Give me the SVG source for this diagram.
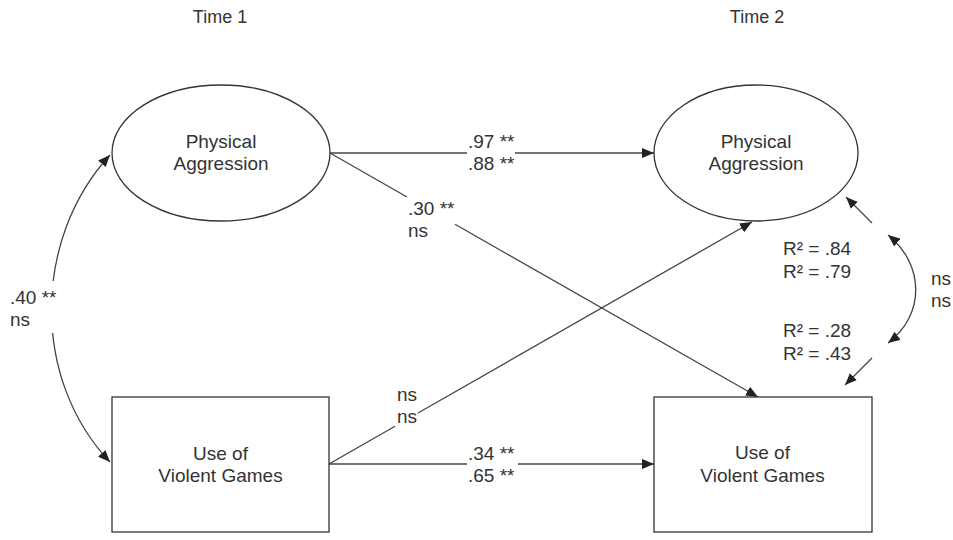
<svg xmlns="http://www.w3.org/2000/svg" width="953" height="540" viewBox="0 0 953 540">
<style>
text{font-family:"Liberation Sans",Arial,sans-serif;font-size:19px;fill:#333}
.t{font-size:18px}
.node{fill:#fff;stroke:#333;stroke-width:1.3}
.c{fill:none;stroke:#444;stroke-width:1.3}
.a{marker-end:url(#ah)}
.b{marker-start:url(#ahs);marker-end:url(#ah)}
</style>
<defs>
<marker id="ah" viewBox="0 0 12 10" refX="12" refY="5" markerWidth="12" markerHeight="10" markerUnits="userSpaceOnUse" orient="auto"><path d="M0,0 L12,5 L0,10 Z" fill="#222"/></marker>
<marker id="ahs" viewBox="0 0 12 10" refX="0" refY="5" markerWidth="12" markerHeight="10" markerUnits="userSpaceOnUse" orient="auto"><path d="M12,0 L0,5 L12,10 Z" fill="#222"/></marker>
</defs>
<rect width="953" height="540" fill="#fff"/>
<text class="t" x="220" y="23" text-anchor="middle">Time 1</text>
<text class="t" x="757" y="23" text-anchor="middle">Time 2</text>
<g id="connectors">
<line class="c" x1="330" y1="153" x2="467" y2="153"/>
<line class="c a" x1="515" y1="153" x2="654" y2="153"/>
<line class="c" x1="329" y1="464" x2="467" y2="464"/>
<line class="c a" x1="518" y1="464" x2="654" y2="464"/>
<line class="c" x1="330" y1="153" x2="407" y2="197"/>
<line class="c a" x1="455" y1="224.3" x2="758" y2="397"/>
<line class="c" x1="329" y1="464" x2="395" y2="426.3"/>
<line class="c a" x1="418" y1="413" x2="752" y2="222"/>
<path class="c b" d="M110,155 C32,240 32,380 110,462"/>
<rect x="38" y="281" width="26" height="52" fill="#fff"/>
<path class="c b" d="M888,235 C925,265 925,315 888,343"/>
<line class="c a" x1="872" y1="223" x2="846" y2="197"/>
<line class="c a" x1="872" y1="358" x2="845" y2="385"/>
</g>
<g id="pa1">
<ellipse class="node" cx="221" cy="153" rx="109" ry="68"/>
<text x="221" y="148" text-anchor="middle">Physical</text>
<text x="221" y="170" text-anchor="middle">Aggression</text>
</g>
<g id="pa2">
<ellipse class="node" cx="756" cy="153" rx="102" ry="68"/>
<text x="756" y="148" text-anchor="middle">Physical</text>
<text x="756" y="170" text-anchor="middle">Aggression</text>
</g>
<g id="vg1">
<rect class="node" x="112" y="397" width="217" height="135"/>
<text x="220.5" y="460" text-anchor="middle">Use of</text>
<text x="220.5" y="482" text-anchor="middle">Violent Games</text>
</g>
<g id="vg2">
<rect class="node" x="654" y="397" width="218" height="135"/>
<text x="762.5" y="459" text-anchor="middle">Use of</text>
<text x="762.5" y="482" text-anchor="middle">Violent Games</text>
</g>
<g id="labels">
<text x="468" y="148">.97 **</text>
<text x="468" y="170">.88 **</text>
<text x="408" y="215">.30 **</text>
<text x="408" y="237">ns</text>
<text x="397" y="401">ns</text>
<text x="397" y="423">ns</text>
<text x="468" y="460">.34 **</text>
<text x="468" y="482">.65 **</text>
<text x="10" y="304">.40 **</text>
<text x="10" y="326">ns</text>
<text x="783" y="255">R² = .84</text>
<text x="783" y="278">R² = .79</text>
<text x="783" y="337">R² = .28</text>
<text x="783" y="360">R² = .43</text>
<text x="931" y="285">ns</text>
<text x="931" y="307">ns</text>
</g>
</svg>
